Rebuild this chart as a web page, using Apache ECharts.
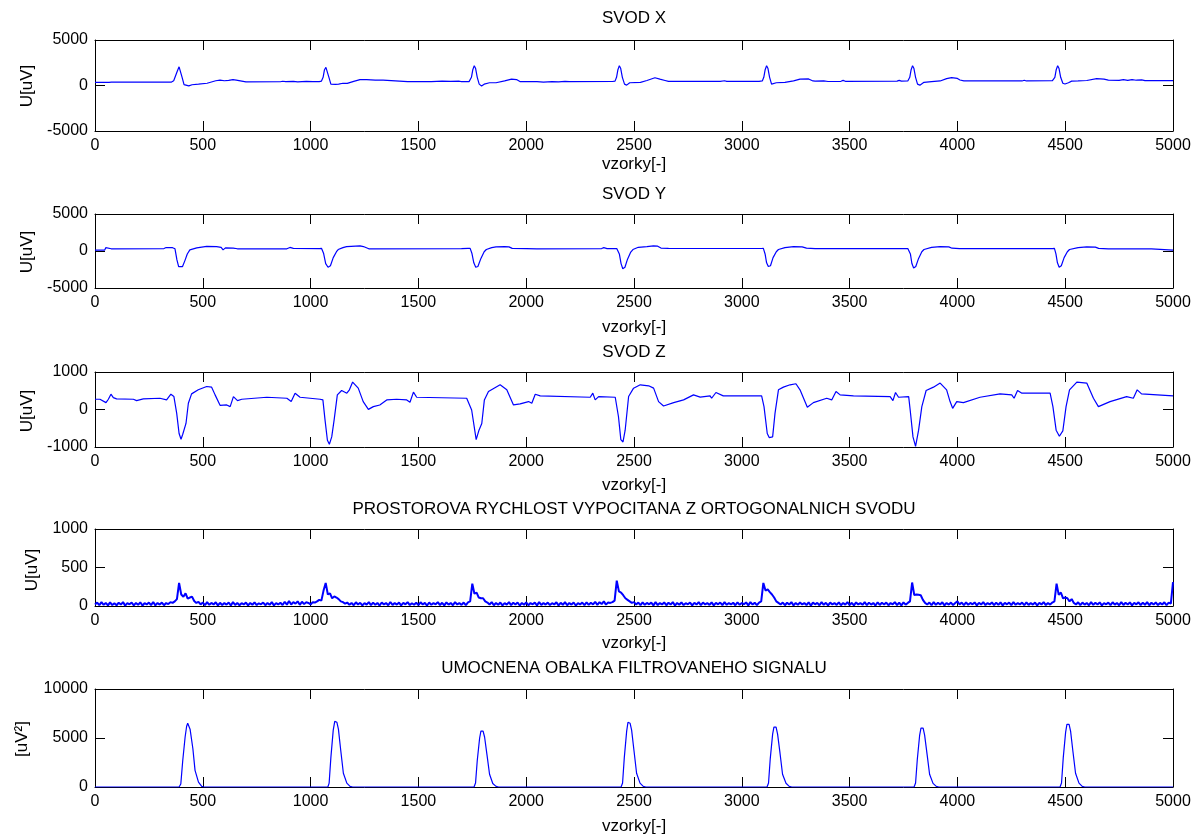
<!DOCTYPE html>
<html><head><meta charset="utf-8">
<script src="https://cdn.jsdelivr.net/npm/echarts@6/dist/echarts.min.js"></script>
<style>html,body{margin:0;padding:0;background:#fff}#c{width:1204px;height:835px}</style>
</head><body><div id="c"></div>
<script>
// ---------------- DATA ----------------
const titles = ['SVOD X', 'SVOD Y', 'SVOD Z', 'PROSTOROVA RYCHLOST VYPOCITANA Z ORTOGONALNICH SVODU', 'UMOCNENA OBALKA FILTROVANEHO SIGNALU'];
const yNames = ['U[uV]', 'U[uV]', 'U[uV]', 'U[uV]', '[uV²]'];
const xName = 'vzorky[-]';
const xRange = [0, 5000, 500];
const yRanges = [[-5000, 5000, 5000], [-5000, 5000, 5000], [-1000, 1000, 1000], [0, 1000, 500], [0, 10000, 5000]];

const svodX = [
[0,350],[65,350],[70,420],[76,360],[300,370],[355,380],[365,520],[373,700],[382,1600],[390,2050],[396,1850],[404,900],[413,100],[422,-80],[435,-40],[450,80],[480,150],[520,250],[560,520],[580,600],[600,520],[620,560],[640,640],[655,600],[663,420],[700,400],[860,410],[870,470],[885,420],[920,460],[940,400],[980,450],[1010,420],[1040,430],
[1050,480],[1058,900],[1064,1700],[1071,2000],[1077,1850],[1085,900],[1094,150],[1102,30],[1115,120],[1130,150],[1150,250],[1170,230],[1200,450],[1229,650],[1260,640],[1300,600],[1336,580],[1345,420],[1450,420],[1500,440],[1560,430],[1610,480],[1650,450],[1690,470],[1700,420],[1735,430],
[1740,480],[1746,900],[1752,1700],[1759,2180],[1765,1900],[1773,900],[1782,150],[1793,-50],[1805,150],[1830,300],[1860,300],[1900,500],[1932,700],[1955,650],[1971,430],[2050,420],[2080,380],[2120,430],[2150,400],[2180,450],[2200,430],[2400,440],
[2412,480],[2419,900],[2425,1700],[2432,2180],[2438,1900],[2446,900],[2456,150],[2466,40],[2480,300],[2530,350],[2560,550],[2597,850],[2620,700],[2644,550],[2660,450],[2900,460],[2920,520],[2930,450],[3080,460],
[3095,500],[3102,900],[3108,1700],[3115,2180],[3121,1900],[3129,900],[3138,150],[3146,40],[3160,300],[3200,350],[3240,500],[3270,700],[3310,720],[3330,500],[3340,480],[3380,500],[3400,440],[3460,460],[3470,560],[3480,460],[3720,480],[3730,560],[3740,480],[3770,500],
[3772,520],[3779,900],[3785,1700],[3792,2180],[3798,1900],[3806,900],[3815,150],[3826,40],[3845,350],[3880,420],[3920,500],[3950,750],[3973,860],[4000,780],[4012,600],[4030,500],[4300,500],[4310,580],[4320,500],[4440,520],
[4445,560],[4452,900],[4458,1700],[4465,2180],[4471,1900],[4479,900],[4489,250],[4499,160],[4515,300],[4530,480],[4560,500],[4600,550],[4646,750],[4680,700],[4700,600],[4750,560],[4770,650],[4790,560],[4810,640],[4830,580],[4855,620],[4870,540],[5000,530]
];

const svodY = [
[0,120],[45,120],[50,450],[75,300],[320,330],[330,470],[360,450],[371,300],[380,-1200],[388,-2100],[396,-2300],[406,-2100],[417,-1300],[428,-400],[440,150],[472,420],[518,620],[564,600],[585,500],[594,150],[605,420],[641,380],[660,300],[890,300],[904,480],[920,350],[1040,320],
[1051,350],[1060,-300],[1070,-1700],[1081,-2200],[1092,-2000],[1105,-900],[1120,-100],[1128,200],[1150,450],[1167,600],[1229,700],[1245,600],[1252,400],[1270,300],[1700,320],[1730,350],
[1740,350],[1748,-300],[1757,-1600],[1766,-2200],[1776,-2100],[1790,-1000],[1805,-100],[1815,200],[1840,450],[1860,550],[1900,600],[1920,560],[1935,350],[2000,320],[2050,300],[2350,330],[2360,450],[2375,330],[2420,340],
[2425,350],[2432,-400],[2440,-1700],[2448,-2400],[2458,-2200],[2470,-1100],[2485,-150],[2495,200],[2520,500],[2560,600],[2590,700],[2610,650],[2625,400],[2660,350],[3090,340],
[3100,350],[3108,-400],[3115,-1600],[3123,-2100],[3133,-2000],[3145,-900],[3160,-100],[3170,200],[3200,450],[3240,580],[3280,560],[3300,380],[3340,330],[3770,330],
[3775,340],[3782,-400],[3789,-1700],[3797,-2300],[3807,-2100],[3820,-1000],[3835,-100],[3845,200],[3880,500],[3920,600],[3960,560],[3975,380],[4010,330],[4440,330],
[4450,350],[4457,-400],[4464,-1600],[4472,-2200],[4482,-2000],[4495,-900],[4510,-100],[4520,200],[4560,450],[4600,560],[4640,520],[4655,350],[4700,300],[4900,280],[5000,120]
];

const svodZ = [
[0,273],[23,273],[51,184],[62,273],[74,408],[85,318],[100,283],[178,273],[193,238],[224,283],[301,300],[332,256],[352,408],[366,345],[379,-103],[390,-641],[399,-794],[407,-659],[415,-686],[422,-372],[433,166],[448,417],[479,525],[518,614],[541,596],[557,390],[580,112],[611,121],[627,76],[642,345],[661,238],[681,273],[797,327],[890,300],[910,211],[928,435],[951,327],[1044,273],
[1057,256],[1067,-283],[1078,-821],[1087,-928],[1098,-731],[1109,-283],[1124,390],[1144,507],[1168,435],[1180,525],[1195,731],[1221,569],[1244,211],[1268,4],[1291,76],[1321,121],[1353,256],[1399,273],[1446,256],[1461,193],[1477,462],[1492,327],[1724,300],
[1747,-13],[1768,-803],[1781,-552],[1794,-372],[1806,256],[1825,480],[1879,659],[1910,525],[1941,121],[1972,148],[2011,211],[2026,166],[2042,408],[2065,363],[2297,327],[2309,435],[2320,256],[2336,345],[2413,327],
[2428,-193],[2439,-803],[2449,-866],[2459,-552],[2475,345],[2498,569],[2529,659],[2568,632],[2591,569],[2614,211],[2637,94],[2684,184],[2730,256],[2776,390],[2807,330],[2853,363],[2860,300],[2880,453],[2914,363],[3092,363],
[3103,76],[3118,-641],[3127,-749],[3143,-731],[3154,-103],[3170,525],[3193,596],[3224,659],[3251,686],[3270,525],[3304,58],[3332,184],[3394,300],[3417,256],[3437,480],[3456,390],[3518,363],[3688,345],[3701,238],[3713,453],[3727,327],[3774,345],
[3781,-13],[3794,-731],[3806,-982],[3820,-552],[3835,76],[3855,507],[3889,596],[3920,704],[3950,525],[3966,211],[3978,31],[3997,211],[4028,184],[4105,327],[4198,417],[4252,390],[4263,300],[4279,507],[4299,435],[4430,435],
[4443,76],[4458,-552],[4473,-713],[4489,-570],[4504,76],[4520,525],[4554,731],[4600,704],[4631,300],[4654,76],[4708,211],[4785,345],[4816,300],[4834,525],[4854,417],[5000,363]
];

const prStep = 10;
const prValues = [
20,45,10,50,15,40,8,48,12,35, 10,42,18,50,5,38,22,45,9,40, 15,48,6,36,20,44,12,52,8,40, 18,45,10,38,25,50,40,60,90,300,
150,120,165,95,110,122,65,40,55,20, 45,10,50,15,40,20,48,8,42,12, 38,18,45,6,50,14,40,10,36,20, 44,8,40,16,48,12,35,22,45,10,
40,15,50,8,38,20,42,12,55,18, 65,20,50,30,60,15,55,25,48,40, 20,50,45,60,80,70,200,300,150,165, 100,125,110,90,60,50,30,45,15,40,
10,48,20,42,8,38,18,50,12,44, 15,40,6,46,20,38,10,52,14,40, 18,45,8,40,22,50,12,36,16,44, 10,48,20,40,6,45,15,38,22,50,
12,42,8,46,18,40,10,50,20,38, 14,45,10,48,60,290,160,175,110,100, 100,60,45,20,50,10,40,15,45,8, 38,18,50,12,42,20,45,6,40,16,
48,10,38,22,44,8,50,14,40,18, 45,12,36,20,48,8,42,16,50,10, 40,18,46,6,38,20,44,12,48,15, 42,20,55,15,50,25,60,18,45,40,
50,70,330,190,175,140,100,80,60,40, 50,20,45,10,48,15,40,22,44,8, 50,12,38,20,46,10,42,18,50,6, 40,16,48,12,36,22,45,8,42,18,
50,10,44,20,38,14,48,8,40,22, 45,12,50,16,38,20,42,10,48,15, 40,22,46,8,50,18,42,12,45,60, 300,200,215,180,150,110,60,40,20,45,
10,42,18,50,8,40,15,45,20,38, 12,48,6,44,22,40,10,50,16,42, 8,45,20,38,14,48,10,40,18,50, 12,42,8,46,20,38,15,50,10,44,
18,40,6,48,14,42,20,45,10,38, 22,50,12,44,8,46,18,40,60,305, 143,150,145,140,80,40,20,45,10,50, 15,42,20,48,8,40,18,45,12,38,
60,20,44,10,48,16,40,22,46,8, 42,18,50,12,38,20,46,10,44,15, 48,8,40,22,45,12,50,16,38,20, 44,10,48,14,40,18,45,8,42,20,
50,12,40,18,45,60,290,145,175,100, 110,100,60,90,40,20,48,12,45,18, 40,10,50,15,42,20,46,8,38,22, 44,12,48,18,40,10,50,14,42,20,
46,8,40,22,48,12,44,16,50,10, 42,18,46,12,40,20,48,10,44,30, 310
];

const envelope = [
[0,0],[390,0],[398,300],[407,2700],[418,5100],[425,6200],[430,6500],[435,6300],[441,5900],[454,3900],[464,1700],[480,500],[495,70],[505,0],
[1080,0],[1086,400],[1094,3000],[1105,5800],[1112,6700],[1117,6900],[1122,6600],[1129,5900],[1140,3700],[1152,1400],[1168,400],[1183,70],[1195,0],
[1758,0],[1765,400],[1773,2700],[1784,5000],[1790,5700],[1795,5900],[1800,5700],[1807,5100],[1818,3300],[1830,1300],[1845,350],[1860,60],[1872,0],
[2440,0],[2447,400],[2455,3000],[2466,5700],[2472,6600],[2477,6800],[2482,6500],[2489,5800],[2500,3700],[2512,1400],[2528,400],[2543,70],[2555,0],
[3117,0],[3124,400],[3132,2900],[3143,5400],[3149,6100],[3154,6300],[3159,6100],[3166,5400],[3177,3500],[3189,1300],[3205,380],[3220,60],[3232,0],
[3799,0],[3806,400],[3814,2800],[3825,5300],[3831,6000],[3836,6200],[3841,6000],[3848,5300],[3859,3400],[3871,1300],[3887,370],[3902,60],[3914,0],
[4476,0],[4483,400],[4491,3000],[4502,5600],[4508,6400],[4513,6600],[4518,6400],[4525,5700],[4536,3600],[4548,1400],[4564,400],[4579,70],[4591,0],[5000,0]
];

// ---------------- CHART ----------------
const FONT = '"Liberation Sans", Arial, sans-serif';
const FS_TICK = 16;
const FS_TEXT = 17;
const layout = [
  {top: 40,  h: 91, title: 18,  xname: 164, yname: [27, 86]},
  {top: 214, h: 74, title: 194, xname: 327, yname: [27, 252]},
  {top: 372, h: 75, title: 352, xname: 485, yname: [27, 411]},
  {top: 529, h: 77, title: 509, xname: 643, yname: [32, 570]},
  {top: 689, h: 98, title: 668, xname: 826, yname: [22, 739]}
];
const prData = prValues.map((v, i) => [i * prStep, v]);
const seriesData = [svodX, svodY, svodZ, prData, envelope];
const L = 95, R = 1173, CX = (L + R) / 2;

const grids = [], xAxes = [], yAxes = [], series = [], graphics = [];
const lineC = '#000';
layout.forEach((g, i) => {
  grids.push({left: L, width: R - L, top: g.top, height: g.h, show: false});
  const tick = {show: true, inside: true, length: 10, lineStyle: {color: lineC, width: 1}};
  const aLine = {show: true, onZero: false, lineStyle: {color: lineC, width: 1}};
  const lab = {color: '#000', fontSize: FS_TICK, fontFamily: FONT, margin: 7, formatter: v => String(v)};
  xAxes.push({gridIndex: i, type: 'value', min: xRange[0], max: xRange[1], interval: xRange[2], position: 'bottom',
    axisLine: aLine, axisTick: tick, axisLabel: lab, splitLine: {show: false}});
  xAxes.push({gridIndex: i, type: 'value', min: xRange[0], max: xRange[1], interval: xRange[2], position: 'top',
    axisLine: aLine, axisTick: tick, axisLabel: {show: false}, splitLine: {show: false}});
  const yr = yRanges[i];
  yAxes.push({gridIndex: i, type: 'value', min: yr[0], max: yr[1], interval: yr[2], position: 'left',
    axisLine: aLine, axisTick: tick, axisLabel: lab, splitLine: {show: false}});
  yAxes.push({gridIndex: i, type: 'value', min: yr[0], max: yr[1], interval: yr[2], position: 'right',
    axisLine: aLine, axisTick: tick, axisLabel: {show: false}, splitLine: {show: false}});
  series.push({type: 'line', xAxisIndex: i * 2, yAxisIndex: i * 2, data: seriesData[i], showSymbol: false,
    lineStyle: {color: '#0000ff', width: i === 3 ? 2 : 1.2}, itemStyle: {color: '#0000ff'}, animation: false, silent: true, z: 5, clip: true});
  graphics.push({type: 'text', x: CX, y: g.title, style: {text: titles[i], fill: '#000', font: FS_TEXT + 'px ' + FONT, align: 'center', verticalAlign: 'middle'}});
  graphics.push({type: 'text', x: CX, y: g.xname, style: {text: xName, fill: '#000', font: FS_TEXT + 'px ' + FONT, align: 'center', verticalAlign: 'middle'}});
  graphics.push({type: 'text', x: g.yname[0], y: g.yname[1], rotation: Math.PI / 2, style: {text: yNames[i], fill: '#000', font: FS_TEXT + 'px ' + FONT, align: 'center', verticalAlign: 'middle'}});
});

const chart = echarts.init(document.getElementById('c'), null, {renderer: 'canvas'});
chart.setOption({
  animation: false,
  backgroundColor: '#fff',
  grid: grids, xAxis: xAxes, yAxis: yAxes, series: series, graphic: graphics
});
</script></body></html>
